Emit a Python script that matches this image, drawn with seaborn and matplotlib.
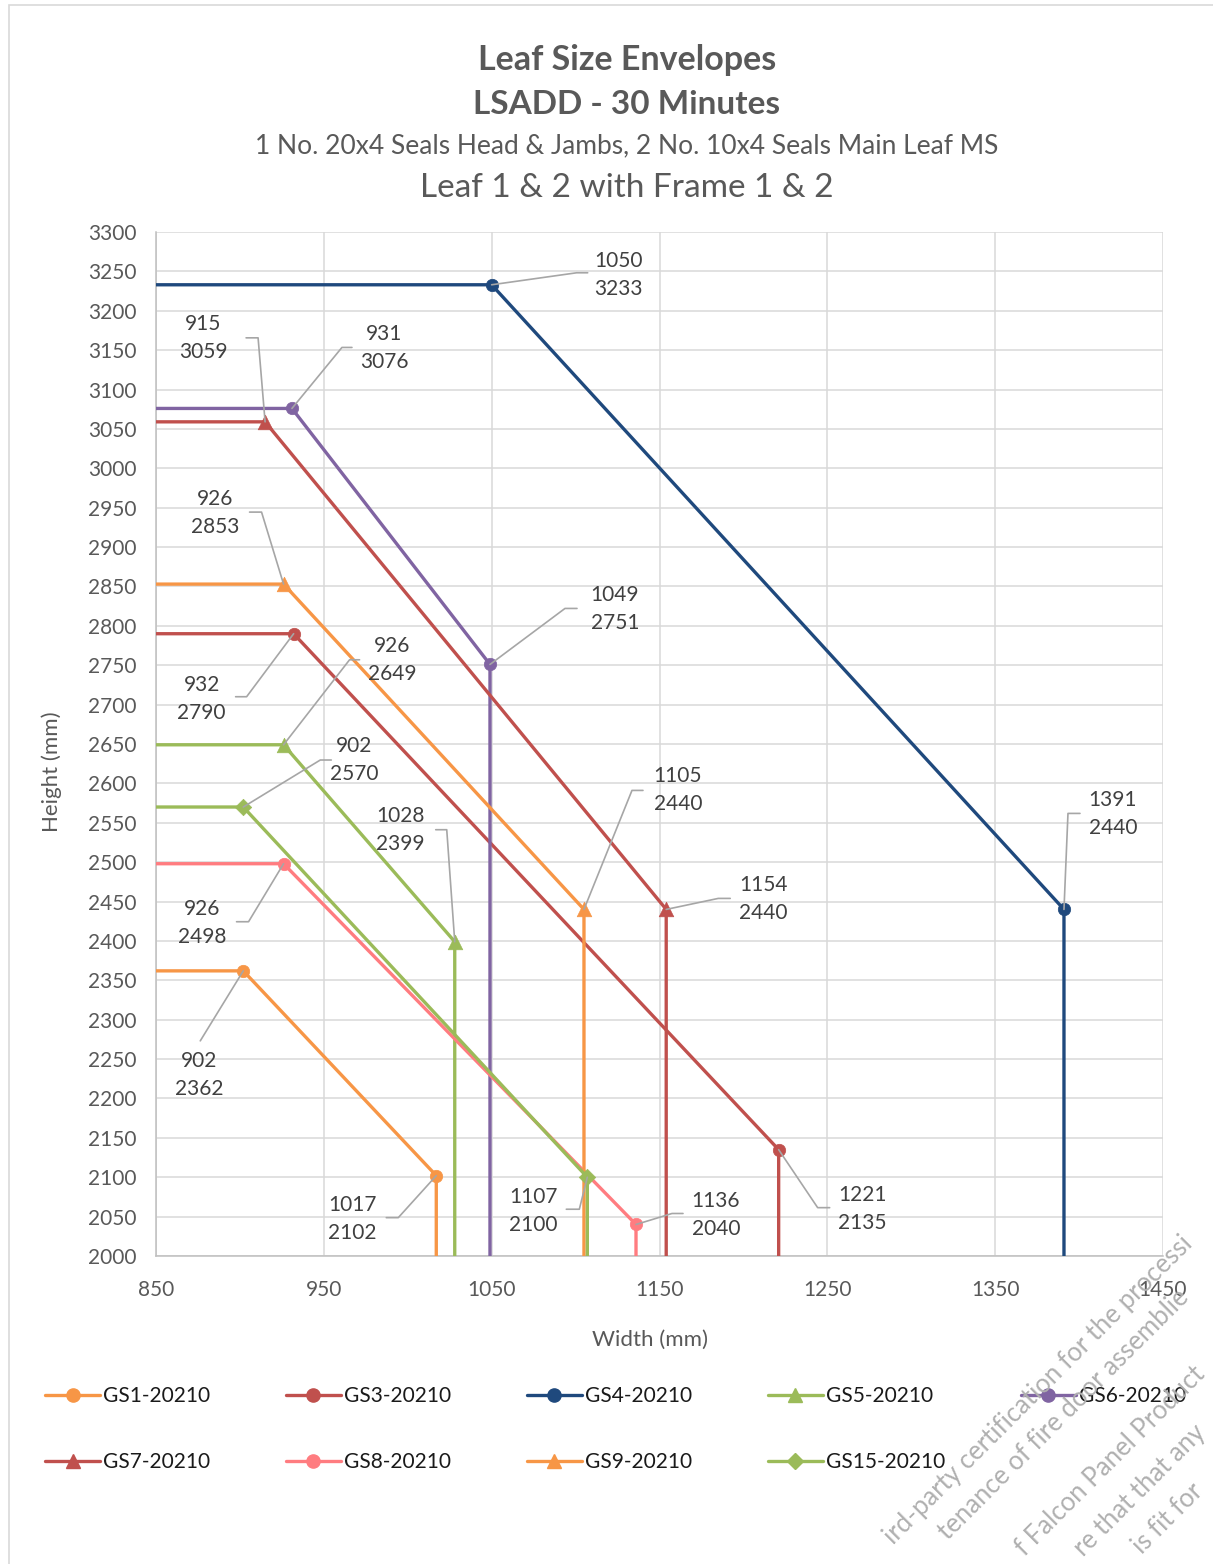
import matplotlib
matplotlib.use("Agg")
import matplotlib.pyplot as plt
import seaborn as sns
import pandas as pd
from matplotlib.lines import Line2D
from matplotlib.patches import Rectangle
from matplotlib.transforms import IdentityTransform

# ---------------- data ----------------
series_names = ["GS1-20210", "GS3-20210", "GS4-20210", "GS5-20210", "GS6-20210",
                "GS7-20210", "GS8-20210", "GS9-20210", "GS15-20210"]

gs1_w = [850, 902, 1017, 1017]
gs1_h = [2362, 2362, 2102, 2000]
gs3_w = [850, 932, 1221, 1221]
gs3_h = [2790, 2790, 2135, 2000]
gs4_w = [850, 1050, 1391, 1391]
gs4_h = [3233, 3233, 2440, 2000]
gs5_w = [850, 926, 1028, 1028]
gs5_h = [2649, 2649, 2399, 2000]
gs6_w = [850, 931, 1049, 1049]
gs6_h = [3076, 3076, 2751, 2000]
gs7_w = [850, 915, 1154, 1154]
gs7_h = [3059, 3059, 2440, 2000]
gs8_w = [850, 926, 1136, 1136]
gs8_h = [2498, 2498, 2040, 2000]
gs9_w = [850, 926, 1105, 1105]
gs9_h = [2853, 2853, 2440, 2000]
gs15_w = [850, 902, 1107, 1107]
gs15_h = [2570, 2570, 2100, 2000]

x_ticks = [850, 950, 1050, 1150, 1250, 1350, 1450]
y_ticks = list(range(2000, 3301, 50))

title_lines = ["Leaf Size Envelopes", "LSADD - 30 Minutes",
               "1 No. 20x4 Seals Head & Jambs, 2 No. 10x4 Seals Main Leaf MS",
               "Leaf 1 & 2 with Frame 1 & 2"]
x_label = "Width (mm)"
y_label = "Height (mm)"

watermark_lines = ["ird-party certification for the processi",
                   "tenance of fire door assemblie",
                   "f Falcon Panel Product",
                   "re that that any",
                   "is fit for"]

# ---------------- styles ----------------
series_w = [gs1_w, gs3_w, gs4_w, gs5_w, gs6_w, gs7_w, gs8_w, gs9_w, gs15_w]
series_h = [gs1_h, gs3_h, gs4_h, gs5_h, gs6_h, gs7_h, gs8_h, gs9_h, gs15_h]
colors = {"GS1-20210": "#F79646", "GS3-20210": "#C0504D", "GS4-20210": "#1F497D",
          "GS5-20210": "#9BBB59", "GS6-20210": "#8064A2", "GS7-20210": "#C0504D",
          "GS8-20210": "#FF7C80", "GS9-20210": "#F79646", "GS15-20210": "#9BBB59"}
markers = {"GS1-20210": "o", "GS3-20210": "o", "GS4-20210": "o", "GS5-20210": "^",
           "GS6-20210": "o", "GS7-20210": "^", "GS8-20210": "o", "GS9-20210": "^",
           "GS15-20210": "D"}
msize = {"o": 80, "^": 110, "D": 70}
lmsize = {"o": 9.5, "^": 10.5, "D": 8}

# label layout: offsets in image pixels (dx right, dy down) for text centre, leader elbow, leader end x
label_layout = {
    ("GS1-20210", 1): ((-44, 104), (-43, 70), -43),
    ("GS1-20210", 2): ((-84, 43), (-38, 42), -50),
    ("GS3-20210", 1): ((-92, 65), (-47, 63), -58),
    ("GS3-20210", 2): ((84, 59), (39, 58), 51),
    ("GS4-20210", 1): ((127, -10), (85, -12), 96),
    ("GS4-20210", 2): ((49, -95), (4, -96), 16),
    ("GS5-20210", 1): ((109, -85), (66, -85), 76),
    ("GS5-20210", 2): ((-54, -112), (-8, -112), -19),
    ("GS6-20210", 1): ((92, -60), (50, -61), 60),
    ("GS6-20210", 2): ((125, -55), (75, -56), 87),
    ("GS7-20210", 1): ((-62, -84), (-7, -84), -19),
    ("GS7-20210", 2): ((97, -10), (52, -11), 64),
    ("GS8-20210", 1): ((-81, 59), (-35, 58), -47),
    ("GS8-20210", 2): ((80, -9), (36, -11), 47),
    ("GS9-20210", 1): ((-68, -71), (-22, -72), -34),
    ("GS9-20210", 2): ((94, -119), (48, -119), 59),
    ("GS15-20210", 1): ((111, -47), (77, -47), 88),
    ("GS15-20210", 2): ((-54, 34), (-8, 32), -21),
}

rows = []
for name, ws, hs in zip(series_names, series_w, series_h):
    for i, (w, h) in enumerate(zip(ws, hs)):
        rows.append({"series": name, "idx": i, "w": w, "h": h})
df = pd.DataFrame(rows)

# ---------------- figure ----------------
sns.set_style("white")
plt.rcParams["font.family"] = ["Lato", "DejaVu Sans"]

W, H = 1213, 1564
fig = plt.figure(figsize=(W / 100, H / 100), dpi=100)
fig.patch.set_facecolor("white")

L, R, T, B = 156, 1163, 232, 1256
ax = fig.add_axes([L / W, 1 - B / H, (R - L) / W, (B - T) / H])
ax.set_facecolor("none")

for name in series_names:
    sub = df[df.series == name]
    sns.lineplot(data=sub, x="w", y="h", sort=False, estimator=None, color=colors[name],
                 lw=2.4, ax=ax, legend=False, zorder=3)
    pts = sub[sub.idx.isin([1, 2])]
    m = markers[name]
    sns.scatterplot(data=pts, x="w", y="h", marker=m, s=msize[m], color=colors[name],
                    edgecolor=colors[name], linewidth=0.5, ax=ax, legend=False, zorder=4)

ax.set_xlim(850, 1450)
ax.set_ylim(2000, 3300)
ax.set_xticks(x_ticks)
ax.set_yticks(y_ticks)
ax.grid(True, color="#d9d9d9", lw=1.1, zorder=0)
ax.set_axisbelow(True)
for s in ["top", "right"]:
    ax.spines[s].set_visible(False)
for s in ["left", "bottom"]:
    ax.spines[s].set_color("#bfbfbf")
    ax.spines[s].set_linewidth(1.1)
ax.tick_params(axis="both", direction="out", length=6, width=1.1, color="#bfbfbf",
               labelcolor="#595959", labelsize=15)
ax.tick_params(axis="x", pad=11)
ax.tick_params(axis="y", pad=8)

ax.set_xlabel(x_label, fontsize=16, color="#595959")
ax.set_ylabel(y_label, fontsize=16, color="#595959")
ax.xaxis.set_label_coords((650 - L) / (R - L), (B - 1340) / (B - T))
ax.xaxis.label.set_va("center")
ax.yaxis.set_label_coords((52 - L) / (R - L), (B - 772) / (B - T))
ax.yaxis.label.set_va("center")

# titles
tx = 627 / W
fig.text(tx, 1 - 60 / H, title_lines[0], ha="center", va="center", fontsize=24.5,
         fontweight="bold", color="#595959")
fig.text(tx, 1 - 105 / H, title_lines[1], ha="center", va="center", fontsize=24,
         fontweight="bold", color="#595959")
fig.text(tx, 1 - 146 / H, title_lines[2], ha="center", va="center", fontsize=19,
         color="#595959")
fig.text(tx, 1 - 188 / H, title_lines[3], ha="center", va="center", fontsize=24,
         color="#595959")

# data labels with leader lines
for name, ws, hs in zip(series_names, series_w, series_h):
    for i in (1, 2):
        (tdx, tdy), (edx, edy), hx = label_layout[(name, i)]
        px, py = ax.transData.transform((ws[i], hs[i]))
        xs = [px, px + edx, px + hx]
        ys = [py, py - edy, py - edy]
        fig.add_artist(Line2D(xs, ys, transform=IdentityTransform(), color="#a6a6a6",
                              lw=1.2, zorder=5))
        fig.text((px + tdx) / W, (py - tdy) / H, f"{ws[i]}\n{hs[i]}", ha="center",
                 va="center", ma="center", fontsize=15, color="#404040",
                 linespacing=1.5, zorder=6)

# legend (column-major order to give the row layout)
order = ["GS1-20210", "GS7-20210", "GS3-20210", "GS8-20210", "GS4-20210",
         "GS9-20210", "GS5-20210", "GS15-20210", "GS6-20210"]
handles = [Line2D([0], [0], color=colors[n], lw=2.4, marker=markers[n],
                  markersize=lmsize[markers[n]], markeredgecolor=colors[n]) for n in order]
leg = fig.legend(handles, order, loc="upper left", ncol=5, frameon=False,
                 bbox_to_anchor=(45 / W, 1 - 1386 / H), borderaxespad=0, borderpad=0,
                 fontsize=15, handlelength=2.65, handletextpad=0.15, columnspacing=3.62,
                 labelspacing=2.2)
for t in leg.get_texts():
    t.set_color("#1a1a1a")

# watermark text (diagonal, bottom-right corner)
wm_color = "#b0b0b0"
wm_s = [2428, 2478, 2572, 2630, 2686]
for txt, s in zip(watermark_lines, wm_s):
    cx, cy = (s - (H - W)) / 2, (s + (H - W)) / 2
    fig.text(cx / W, 1 - cy / H, txt, rotation=45, rotation_mode="anchor", ha="center",
             va="center", fontsize=18.5, color=wm_color, zorder=10)

# outer chart border
fig.add_artist(Rectangle((9 / W, -0.01), 1.0, 1 - 5 / H + 0.01, transform=fig.transFigure,
                         fill=False, edgecolor="#d9d9d9", lw=1.2))

fig.savefig("out.png", dpi=100, facecolor="white")
